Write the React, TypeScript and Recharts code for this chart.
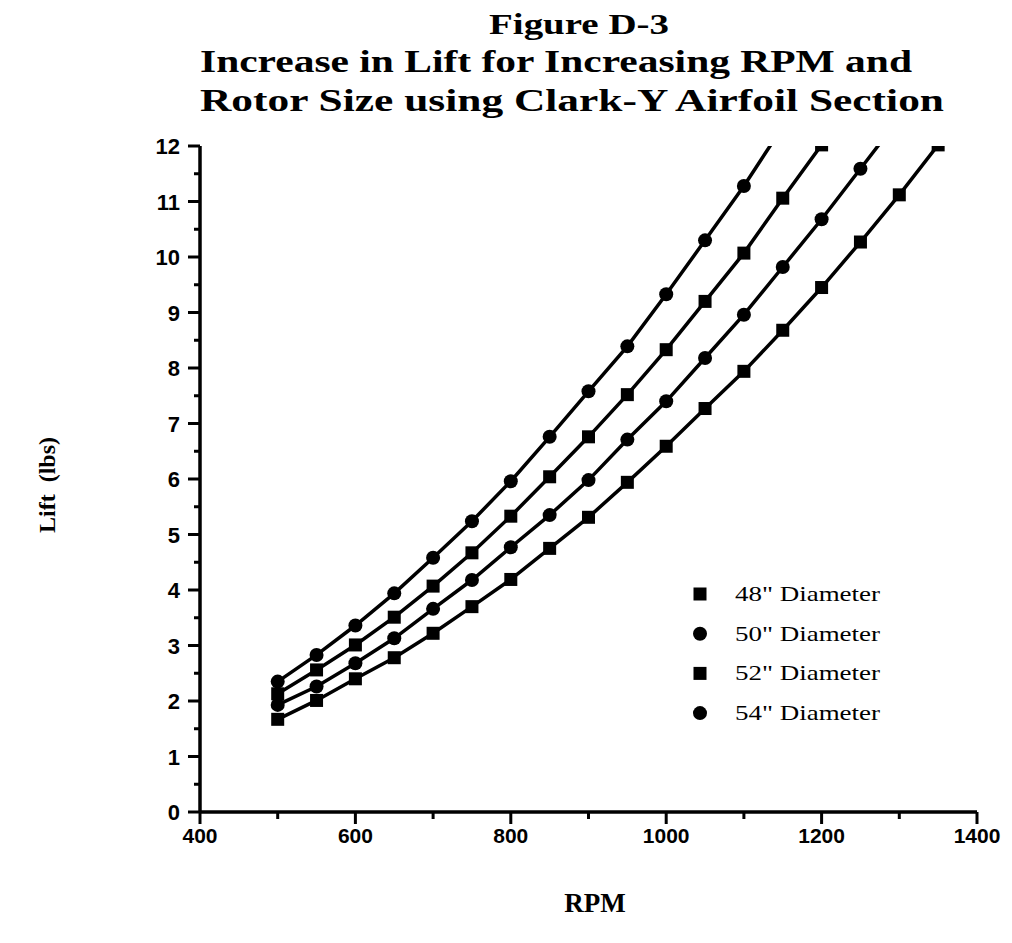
import React from 'react';
import { LineChart, Line, XAxis, YAxis, Legend } from 'recharts';

const rpm = [500, 550, 600, 650, 700, 750, 800, 850, 900, 950, 1000, 1050, 1100, 1150, 1200, 1250, 1300, 1350];
const lift48 = [1.67, 2.01, 2.4, 2.78, 3.22, 3.7, 4.19, 4.75, 5.31, 5.94, 6.59, 7.27, 7.94, 8.68, 9.45, 10.27, 11.12, 12.02];
const lift50 = [1.93, 2.26, 2.68, 3.13, 3.66, 4.18, 4.77, 5.35, 5.98, 6.71, 7.4, 8.18, 8.96, 9.82, 10.68, 11.59, 12.5];
const lift52 = [2.13, 2.56, 3.01, 3.51, 4.07, 4.67, 5.33, 6.04, 6.76, 7.52, 8.33, 9.2, 10.07, 11.06, 12.02];
const lift54 = [2.35, 2.83, 3.36, 3.94, 4.58, 5.24, 5.96, 6.76, 7.58, 8.39, 9.33, 10.3, 11.28, 12.35];

const seriesKeys = ['d48', 'd50', 'd52', 'd54'];
const seriesNames = ['48" Diameter', '50" Diameter', '52" Diameter', '54" Diameter'];
const seriesShapes = ['square', 'circle', 'square', 'circle'];

const xTicks = [400, 500, 600, 700, 800, 900, 1000, 1100, 1200, 1300, 1400];
const yTicks = [0, 0.5, 1, 1.5, 2, 2.5, 3, 3.5, 4, 4.5, 5, 5.5, 6, 6.5, 7, 7.5, 8, 8.5, 9, 9.5, 10, 10.5, 11, 11.5, 12];

const titleLines = ['Figure D-3', 'Increase in Lift for Increasing RPM and', 'Rotor Size using Clark-Y Airfoil Section'];
const xLabel = 'RPM';
const yLabel = 'Lift  (lbs)';

const data = rpm.map((r, i) => ({
  rpm: r,
  d48: lift48[i] ?? null,
  d50: lift50[i] ?? null,
  d52: lift52[i] ?? null,
  d54: lift54[i] ?? null,
}));

const SERIF = '"Liberation Serif", "Times New Roman", serif';
const SANS = '"Liberation Sans", Arial, sans-serif';

const makeDot = (shape: string) => (props: any) => {
  const { cx, cy, value, index } = props;
  const v = Array.isArray(value) ? value[1] : value;
  if (cx == null || cy == null || v == null || v > 12.05) return <g key={`dot-${index}`} />;
  if (shape === 'square') {
    return <rect key={`dot-${index}`} x={cx - 6.5} y={cy - 6.5} width={13} height={13} fill="#000" />;
  }
  return <circle key={`dot-${index}`} cx={cx} cy={cy} r={7} fill="#000" />;
};

const XTick = (props: any) => {
  const { x, y, payload } = props;
  const v = payload.value;
  const major = v % 200 === 0;
  return (
    <g>
      <line x1={x} x2={x} y1={y} y2={y + (major ? 12 : 7)} stroke="#000" strokeWidth={3} />
      {major && (
        <text x={x} y={y + 31} textAnchor="middle" fontFamily={SANS} fontWeight="bold" fontSize={21} fill="#000">
          {v}
        </text>
      )}
    </g>
  );
};

const YTick = (props: any) => {
  const { x, y, payload } = props;
  const v = payload.value;
  const major = Number.isInteger(v);
  return (
    <g>
      <line x1={x} x2={x - (major ? 12 : 6)} y1={y} y2={y} stroke="#000" strokeWidth={3} />
      {major && (
        <text x={x - 20} y={y + 8} textAnchor="end" fontFamily={SANS} fontWeight="bold" fontSize={22} fill="#000">
          {v}
        </text>
      )}
    </g>
  );
};

const LegendContent = (props: any) => {
  const payload = props.payload || [];
  return (
    <svg width={230} height={160}>
      {payload.map((entry: any, i: number) => {
        const idx = seriesKeys.indexOf(entry.dataKey);
        const shape = seriesShapes[idx];
        const cy = 19 + i * 39.7;
        return (
          <g key={entry.dataKey}>
            {shape === 'square' ? (
              <rect x={20 - 6.5} y={cy - 6.5} width={13} height={13} fill="#000" />
            ) : (
              <circle cx={20} cy={cy} r={7} fill="#000" />
            )}
            <text x={55} y={cy + 7} fontFamily={SERIF} fontSize={21} fill="#000" textLength={145} lengthAdjust="spacingAndGlyphs">
              {entry.value}
            </text>
          </g>
        );
      })}
    </svg>
  );
};

export default function App() {
  return (
    <div style={{ position: 'relative', width: 1000, height: 930, background: '#fff' }}>
      <LineChart width={1000} height={930} data={data} margin={{ top: 138, right: 31, left: 132, bottom: 96 }}>
        <XAxis
          dataKey="rpm"
          type="number"
          domain={[400, 1400]}
          ticks={xTicks}
          interval={0}
          tickSize={0}
          tickMargin={0}
          tickLine={false}
          tick={<XTick />}
          axisLine={{ stroke: '#000', strokeWidth: 3.5 }}
          height={30}
        />
        <YAxis
          type="number"
          domain={[0, 12]}
          ticks={yTicks}
          interval={0}
          allowDataOverflow
          tickSize={0}
          tickMargin={0}
          tickLine={false}
          tick={<YTick />}
          axisLine={{ stroke: '#000', strokeWidth: 3.5 }}
          width={60}
        />
        <Legend
          layout="vertical"
          align="center"
          verticalAlign="middle"
          content={<LegendContent />}
          wrapperStyle={{ position: 'absolute', left: 672, top: 567, width: 230, height: 160 }}
        />
        {seriesKeys.map((k, i) => (
          <Line
            key={k}
            dataKey={k}
            name={seriesNames[i]}
            type="linear"
            stroke="#000"
            strokeWidth={3.5}
            dot={makeDot(seriesShapes[i])}
            activeDot={false}
            isAnimationActive={false}
            legendType={seriesShapes[i] === 'square' ? 'square' : 'circle'}
          />
        ))}
      </LineChart>
      <svg
        width={1000}
        height={930}
        style={{ position: 'absolute', left: 0, top: 0, pointerEvents: 'none' }}
      >
        <text x={571} y={26} textAnchor="middle" fontFamily={SERIF} fontWeight="bold" fontSize={30} fill="#000" textLength={180} lengthAdjust="spacingAndGlyphs">
          {titleLines[0]}
        </text>
        <text x={548} y={64} textAnchor="middle" fontFamily={SERIF} fontWeight="bold" fontSize={31} fill="#000" textLength={712} lengthAdjust="spacingAndGlyphs">
          {titleLines[1]}
        </text>
        <text x={564} y={103} textAnchor="middle" fontFamily={SERIF} fontWeight="bold" fontSize={31} fill="#000" textLength={744} lengthAdjust="spacingAndGlyphs">
          {titleLines[2]}
        </text>
        <text
          x={39}
          y={477}
          textAnchor="middle"
          dominantBaseline="central"
          transform="rotate(-90 39 477)"
          fontFamily={SERIF}
          fontWeight="bold"
          fontSize={24}
          fill="#000"
          style={{ whiteSpace: 'pre' }}
        >
          {yLabel}
        </text>
        <text x={587} y={904} textAnchor="middle" fontFamily={SERIF} fontWeight="bold" fontSize={27} fill="#000">
          {xLabel}
        </text>
      </svg>
    </div>
  );
}
